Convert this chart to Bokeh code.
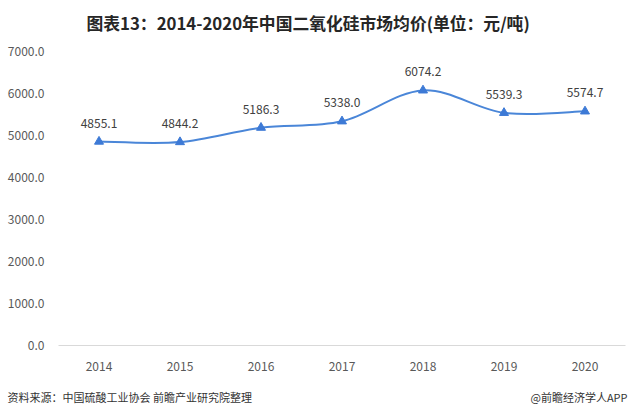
from bokeh.plotting import figure
from bokeh.layouts import column
from bokeh.models import Range1d, Label, FixedTicker, ColumnDataSource
from bokeh.core.properties import value
from bokeh.embed import file_html
from bokeh.resources import INLINE
import numpy as np

years = ["2014", "2015", "2016", "2017", "2018", "2019", "2020"]
prices = [4855.1, 4844.2, 5186.3, 5338.0, 6074.2, 5539.3, 5574.7]
y_ticks = [0, 1000, 2000, 3000, 4000, 5000, 6000, 7000]

title_text = "图表13：2014-2020年中国二氧化硅市场均价(单位：元/吨)"
source_text = "资料来源：中国硫酸工业协会 前瞻产业研究院整理"
brand_text = "@前瞻经济学人APP"

FONT = "Noto Sans CJK SC"
LINE_COLOR = "#4a86d8"
W = 633


def text_strip(height):
    f = figure(width=W, height=height, output_backend="svg", toolbar_location=None,
               x_range=Range1d(0, 1), y_range=Range1d(0, 1),
               x_axis_type=None, y_axis_type=None, frame_align=False,
               min_border_left=0, min_border_right=0, min_border_top=0, min_border_bottom=0)
    f.outline_line_color = None
    f.grid.grid_line_color = None
    return f


# header
header = text_strip(40)
header.add_layout(Label(x=86, y=18, x_units="screen", y_units="screen", text=title_text,
                        text_align="left", text_baseline="middle", text_font=FONT,
                        text_font_size="16.8px", text_font_style="bold", text_color="#262626"))

# main chart
p = figure(width=W, height=340, output_backend="svg", toolbar_location=None, frame_align=False,
           x_range=Range1d(-0.5, len(years) - 0.5), y_range=Range1d(0, 7000),
           min_border_left=58, min_border_right=8, min_border_top=11, min_border_bottom=35)
p.outline_line_color = None
p.xgrid.grid_line_color = None
p.ygrid.grid_line_color = None

p.yaxis.ticker = FixedTicker(ticks=y_ticks)
p.yaxis.major_label_overrides = {t: f"{t:.1f}" for t in y_ticks}
p.yaxis.axis_line_color = None
p.yaxis.major_tick_line_color = None
p.yaxis.minor_tick_line_color = None
p.yaxis.major_label_text_color = "#595959"
p.yaxis.major_label_text_font = FONT
p.yaxis.major_label_text_font_size = "12px"
p.yaxis.major_label_standoff = 8

xs = list(range(len(years)))
p.xaxis.ticker = FixedTicker(ticks=xs)
p.xaxis.major_label_overrides = {i: y for i, y in enumerate(years)}
p.xaxis.axis_line_color = "#d9d9d9"
p.xaxis.major_tick_line_color = None
p.xaxis.minor_tick_line_color = None
p.xaxis.major_label_text_color = "#595959"
p.xaxis.major_label_text_font = FONT
p.xaxis.major_label_text_font_size = "12px"
p.xaxis.major_label_standoff = 10

# smoothed line (Catmull-Rom -> cubic Bezier, derived from data)
x = np.array(xs, dtype=float)
y = np.array(prices, dtype=float)
n = len(x)
x0, y0, x1, y1, cx0, cy0, cx1, cy1 = [], [], [], [], [], [], [], []
for i in range(n - 1):
    xm = x[i - 1] if i > 0 else x[i]
    ym = y[i - 1] if i > 0 else y[i]
    xp = x[i + 2] if i + 2 < n else x[i + 1]
    yp = y[i + 2] if i + 2 < n else y[i + 1]
    t = 1 / 6
    x0.append(x[i]); y0.append(y[i]); x1.append(x[i + 1]); y1.append(y[i + 1])
    cx0.append(x[i] + (x[i + 1] - xm) * t); cy0.append(y[i] + (y[i + 1] - ym) * t)
    cx1.append(x[i + 1] - (xp - x[i]) * t); cy1.append(y[i + 1] - (yp - y[i]) * t)
p.bezier(x0=x0, y0=y0, x1=x1, y1=y1, cx0=cx0, cy0=cy0, cx1=cx1, cy1=cy1,
         line_color=LINE_COLOR, line_width=2)

src = ColumnDataSource(dict(x=xs, y=prices, lab=[f"{v:.1f}" for v in prices]))
p.scatter("x", "y", source=src, marker="triangle", size=9,
          fill_color="#3d7ad6", line_color="#3d7ad6")
p.text("x", "y", text="lab", source=src, text_align="center", text_baseline="bottom",
       y_offset=-14, text_font=value(FONT), text_font_size="12px", text_color="#404040")

# footer
footer = text_strip(36)
footer.add_layout(Label(x=7, y=20, x_units="screen", y_units="screen", text=source_text,
                        text_align="left", text_baseline="middle", text_font=FONT,
                        text_font_size="11px", text_color="#333333"))
footer.add_layout(Label(x=627, y=20, x_units="screen", y_units="screen", text=brand_text,
                        text_align="right", text_baseline="middle", text_font=FONT,
                        text_font_size="11px", text_color="#333333"))

layout = column(header, p, footer, spacing=0)
open("out.html", "w").write(file_html(layout, INLINE))
